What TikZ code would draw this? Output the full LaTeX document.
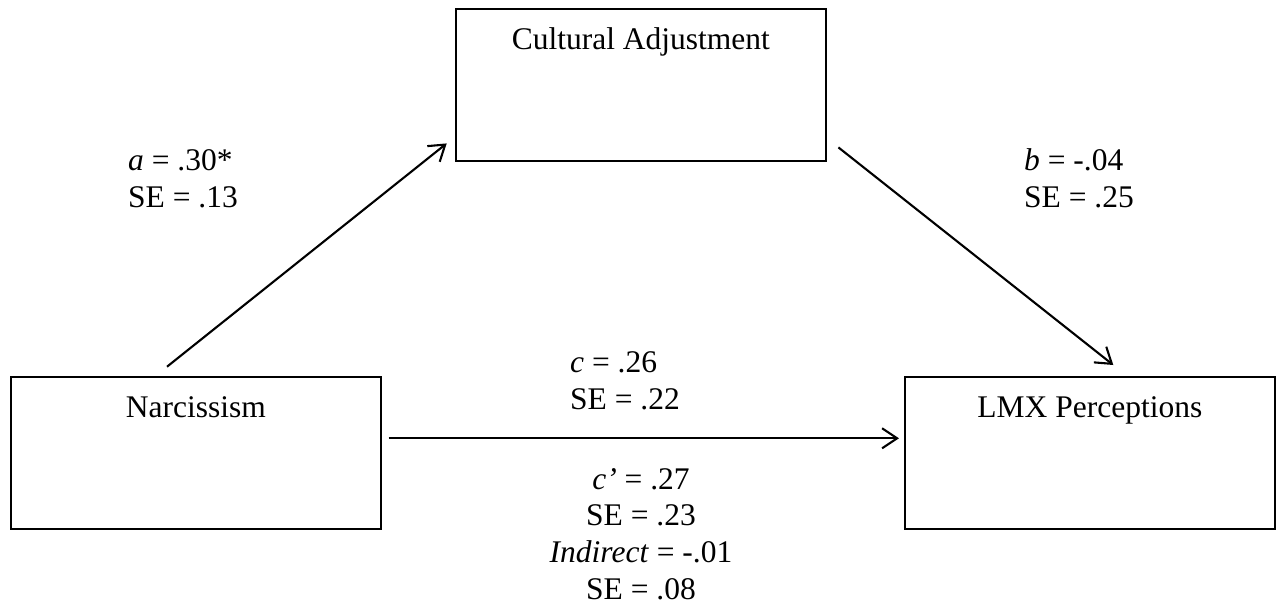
\documentclass[tikz,border=0pt]{standalone}
\usepackage{fontspec}
\setmainfont{Liberation Serif}
\usetikzlibrary{arrows.meta}
\begin{document}
\begin{tikzpicture}[x=1pt, y=-1pt,
  every node/.style={font=\fontsize{31.5}{36.7}\selectfont},
  var/.style={draw, line width=1.7pt, rectangle, inner sep=0pt,
    minimum width=370pt, text height=40.5pt, text depth=111.5pt,
    anchor=north west},
  link/.style={line width=2.1pt,
    -{Straight Barb[length=15pt, width=20pt, line width=2.1pt]}},
  % multi-line labels: the base anchor sits on the last line
  coefl/.style={inner sep=0pt, align=left, anchor=base west},
  coefc/.style={inner sep=0pt, align=center, anchor=base}
]
\useasboundingbox (0,0) rectangle (1280,606);

% variables
\node[var] (cult) at (455,8) {Cultural Adjustment};
\node[var] (narc) at (10,376) {Narcissism};
\node[var] (lmx)  at (904,376) {LMX Perceptions};

% paths
\draw[link] ([shift={(157,-9.3)}]narc.north west) -- ([shift={(-8.3,-18.3)}]cult.south west);
\draw[link] ([shift={(11.7,-14.3)}]cult.south east) -- ([shift={(209.3,-11)}]lmx.north west);
\draw[link] ([shift={(7,62.3)}]narc.north east) -- ([shift={(-5,62.3)}]lmx.north west);

% coefficients
\node[coefl] (ca) at (128,207.3) {\textit{a} = .30*\\SE = .13};
\node[coefl] (cb) at (1024,207.3) {\textit{b} = -.04\\SE = .25};
\node[coefl] (cc) at (570,409.3) {\textit{c} = .26\\SE = .22};
\node[coefc] (cd) at (641,599.3) {\textit{c’} = .27\\SE = .23\\\textit{Indirect} = -.01\\SE = .08};
\end{tikzpicture}
\end{document}
